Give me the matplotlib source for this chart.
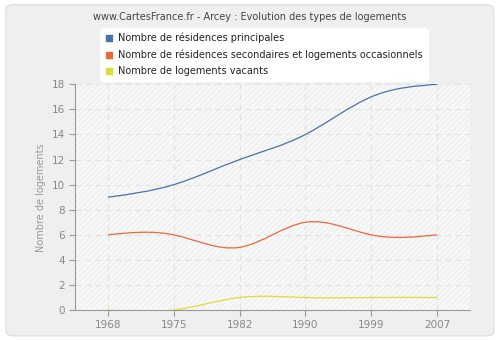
import numpy as np
import matplotlib
matplotlib.use("Agg")
import matplotlib.pyplot as plt
from matplotlib.path import Path
from matplotlib.patches import PathPatch, FancyBboxPatch, Rectangle
from matplotlib.lines import Line2D

years = ["1968", "1975", "1982", "1990", "1999", "2007"]
principales = [9, 10, 12, 14, 17, 18]
secondaires = [6, 6, 5, 7, 6, 6]
vacants = [0, 0, 1, 1, 1, 1]

series = [
    ("Nombre de résidences principales", principales, "#4a72a8"),
    ("Nombre de résidences secondaires et logements occasionnels", secondaires, "#e8693c"),
    ("Nombre de logements vacants", vacants, "#e2da34"),
]


def spline_path(ys):
    # natural cubic spline on unit spacing, written out as bezier segments
    y = np.asarray(ys, dtype=float)
    n = len(y)
    A = np.zeros((n, n))
    b = np.zeros(n)
    A[0, 0] = A[-1, -1] = 1
    for i in range(1, n - 1):
        A[i, i - 1], A[i, i], A[i, i + 1] = 1, 4, 1
        b[i] = 6 * (y[i + 1] - 2 * y[i] + y[i - 1])
    M = np.linalg.solve(A, b)
    d = np.empty(n)
    for i in range(n - 1):
        d[i] = (y[i + 1] - y[i]) - (2 * M[i] + M[i + 1]) / 6
    d[-1] = (y[-1] - y[-2]) + (M[-2] + 2 * M[-1]) / 6
    verts = [(0, y[0])]
    codes = [Path.MOVETO]
    for i in range(n - 1):
        verts += [(i + 1 / 3, y[i] + d[i] / 3),
                  (i + 2 / 3, y[i + 1] - d[i + 1] / 3),
                  (i + 1, y[i + 1])]
        codes += [Path.CURVE4] * 3
    return Path(verts, codes)


fig = plt.figure(figsize=(5, 3.4), dpi=100)
fig.patch.set_facecolor("white")
fig.patches.append(FancyBboxPatch((0.012, 0.012), 0.976, 0.974,
                                  boxstyle="round,pad=0,rounding_size=0.015",
                                  transform=fig.transFigure, facecolor="#efefef",
                                  edgecolor="#dcdcdc", linewidth=0.8, zorder=-5))

ax = fig.add_axes([0.15, 0.088, 0.79, 0.664])
ax.set_facecolor("#f8f8f8")
ax.add_patch(Rectangle((0, 0), 1, 1, transform=ax.transAxes, facecolor="none",
                       edgecolor="#efefef", hatch="//////", linewidth=0, zorder=0))

for label, vals, color in series:
    ax.add_patch(PathPatch(spline_path(vals), facecolor="none", edgecolor=color,
                           linewidth=0.9, zorder=3))

ax.set_xlim(-0.5, len(years) - 0.5)
ax.set_ylim(0, 18)
ax.set_xticks(range(len(years)))
ax.set_xticklabels(years)
ax.set_yticks(range(0, 19, 2))
ax.grid(True, color="#e2e2e2", linestyle=(0, (5, 4)), linewidth=0.8)
ax.set_axisbelow(True)

for s in ["top", "right"]:
    ax.spines[s].set_visible(False)
for s in ["left", "bottom"]:
    ax.spines[s].set_color("#999999")
ax.tick_params(colors="#999999", labelcolor="#888888", labelsize=7.5, length=4, width=0.8)
ax.set_ylabel("Nombre de logements", color="#999999", fontsize=7)

fig.text(0.5, 0.95, "www.CartesFrance.fr - Arcey : Evolution des types de logements",
         ha="center", va="center", fontsize=7, color="#444444")

handles = [Line2D([], [], marker="s", linestyle="none", color=c, markersize=4)
           for _, _, c in series]
leg = fig.legend(handles, [s[0] for s in series], loc="upper left",
                 bbox_to_anchor=(0.2, 0.918), borderaxespad=0, fontsize=7,
                 frameon=True, fancybox=True, framealpha=1, edgecolor="white",
                 facecolor="white", handlelength=0.8, handletextpad=0.6,
                 labelspacing=0.65, borderpad=0.5)
leg.get_frame().set_boxstyle("round,pad=0,rounding_size=0.4")
for t in leg.get_texts():
    t.set_color("#222222")

fig.savefig("out.png", dpi=100)
